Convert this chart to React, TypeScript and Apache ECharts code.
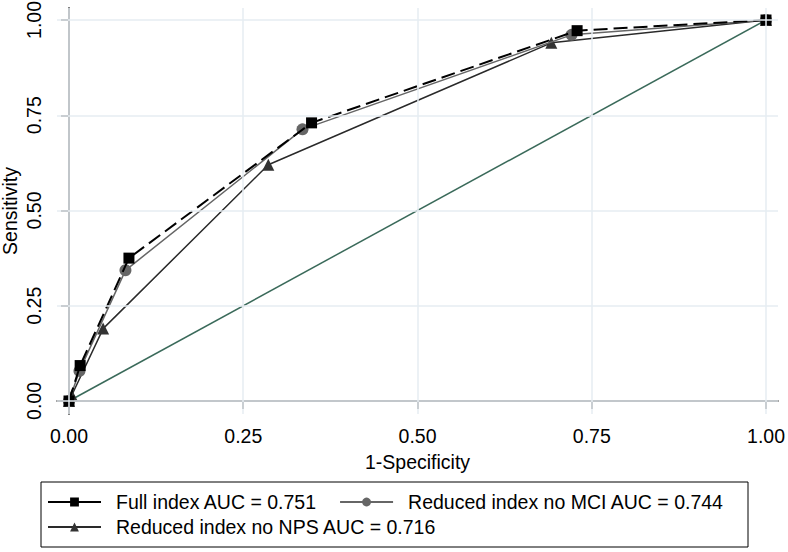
import React, { useEffect, useRef } from "react";
import * as echarts from "echarts";

const tickValues = [0, 0.25, 0.5, 0.75, 1];

const fullIndexX = [0, 0.016, 0.086, 0.348, 0.729, 1];
const fullIndexY = [0, 0.093, 0.375, 0.73, 0.972, 1];

const noMciX = [0, 0.015, 0.081, 0.335, 0.721, 1];
const noMciY = [0, 0.079, 0.343, 0.713, 0.961, 1];

const noNpsX = [0, 0.004, 0.049, 0.286, 0.692, 1];
const noNpsY = [0, 0.015, 0.19, 0.62, 0.94, 1];

const refX = [0, 1];
const refY = [0, 1];

const names = [
  "Full index AUC = 0.751",
  "Reduced index no MCI AUC = 0.744",
  "Reduced index no NPS AUC = 0.716",
];

const zip = (xs: number[], ys: number[]) => xs.map((x, i) => [x, ys[i]]);

const FONT = "'Liberation Sans', Arial, Helvetica, sans-serif";
const FS = 19.5;

export default function App() {
  const ref = useRef<HTMLDivElement>(null);
  useEffect(() => {
    if (!ref.current) return;
    const chart = echarts.init(ref.current, null, { renderer: "svg" });
    const gridColor = "#e6edf2";
    const legendText = {
      fontFamily: FONT,
      fontSize: FS,
      color: "#000",
      lineHeight: 22,
      padding: [0, 0, 0, 10],
    };
    chart.setOption({
      animation: false,
      backgroundColor: "#fff",
      grid: {
        left: 57,
        right: 10,
        top: 8,
        bottom: 138,
        containLabel: false,
        outerBoundsMode: "none",
      },
      xAxis: {
        type: "value",
        min: -12 / 697,
        max: 1 + 12 / 697,
        name: "1-Specificity",
        nameLocation: "middle",
        nameGap: 38,
        nameTextStyle: { fontFamily: FONT, fontSize: FS, color: "#000" },
        axisLine: { show: true, lineStyle: { color: "#222", width: 1.5 } },
        axisTick: {
          show: true,
          length: 8,
          customValues: tickValues,
          lineStyle: { color: "#444", width: 1.5 },
        },
        axisLabel: {
          customValues: tickValues,
          formatter: (v: number) => v.toFixed(2),
          fontFamily: FONT,
          fontSize: FS,
          color: "#000",
          margin: 12,
        },
        splitLine: { show: false },
      },
      yAxis: {
        type: "value",
        min: -13 / 381,
        max: 1 + 12 / 381,
        name: "Sensitivity",
        nameLocation: "middle",
        nameGap: 37,
        nameMoveOverlap: false,
        nameTextStyle: { fontFamily: FONT, fontSize: FS, color: "#000" },
        axisLine: { show: true, lineStyle: { color: "#555", width: 2 } },
        axisTick: {
          show: true,
          length: 8,
          customValues: tickValues,
          lineStyle: { color: "#444", width: 1.5 },
        },
        axisLabel: {
          customValues: tickValues,
          formatter: (v: number) => v.toFixed(2),
          fontFamily: FONT,
          fontSize: FS,
          color: "#000",
          rotate: 90,
          margin: 13,
        },
        splitLine: { show: false },
      },
      legend: [
        {
          data: [{ name: names[0] }, { name: names[1] }],
          left: 47,
          top: 491,
          padding: 0,
          itemWidth: 53,
          itemHeight: 11,
          itemGap: 22,
          textStyle: legendText,
          lineStyle: { type: "solid" },
          selectedMode: false,
        },
        {
          data: [{ name: names[2] }],
          left: 47,
          top: 516,
          padding: 0,
          itemWidth: 53,
          itemHeight: 11,
          itemGap: 22,
          textStyle: legendText,
          lineStyle: { type: "solid" },
          selectedMode: false,
        },
      ],
      graphic: [
        {
          type: "rect",
          shape: { x: 41, y: 482, width: 707, height: 65 },
          style: { fill: "none", stroke: "#000", lineWidth: 1 },
          silent: true,
        },
      ],
      series: [
        {
          type: "line",
          name: "grid",
          data: [],
          silent: true,
          z: 0,
          markLine: {
            silent: true,
            symbol: "none",
            label: { show: false },
            lineStyle: { color: gridColor, width: 1.5, type: "solid" },
            data: [
              ...tickValues.map((v) => ({ xAxis: v })),
              ...tickValues.map((v) => ({ yAxis: v })),
            ],
          },
        },
        {
          type: "line",
          name: "reference",
          data: zip(refX, refY),
          showSymbol: false,
          symbol: "none",
          lineStyle: { color: "#3a6a5a", width: 1.5 },
          z: 1,
        },
        {
          type: "line",
          name: names[2],
          data: zip(noNpsX, noNpsY),
          symbol: "triangle",
          symbolSize: 12,
          itemStyle: { color: "#333" },
          lineStyle: { color: "#2a2a2a", width: 1.5 },
          z: 2,
        },
        {
          type: "line",
          name: names[1],
          data: zip(noMciX, noMciY),
          symbol: "circle",
          symbolSize: 12,
          itemStyle: { color: "#666" },
          lineStyle: { color: "#666", width: 1.5 },
          z: 3,
        },
        {
          type: "line",
          name: names[0],
          data: zip(fullIndexX, fullIndexY),
          symbol: "rect",
          symbolSize: 11,
          itemStyle: { color: "#000" },
          lineStyle: { color: "#000", width: 2, type: [14, 6] },
          z: 4,
        },
      ],
    });
    return () => chart.dispose();
  }, []);
  return (
    <div
      ref={ref}
      style={{ position: "fixed", left: 0, top: 0, width: 788, height: 552 }}
    />
  );
}
